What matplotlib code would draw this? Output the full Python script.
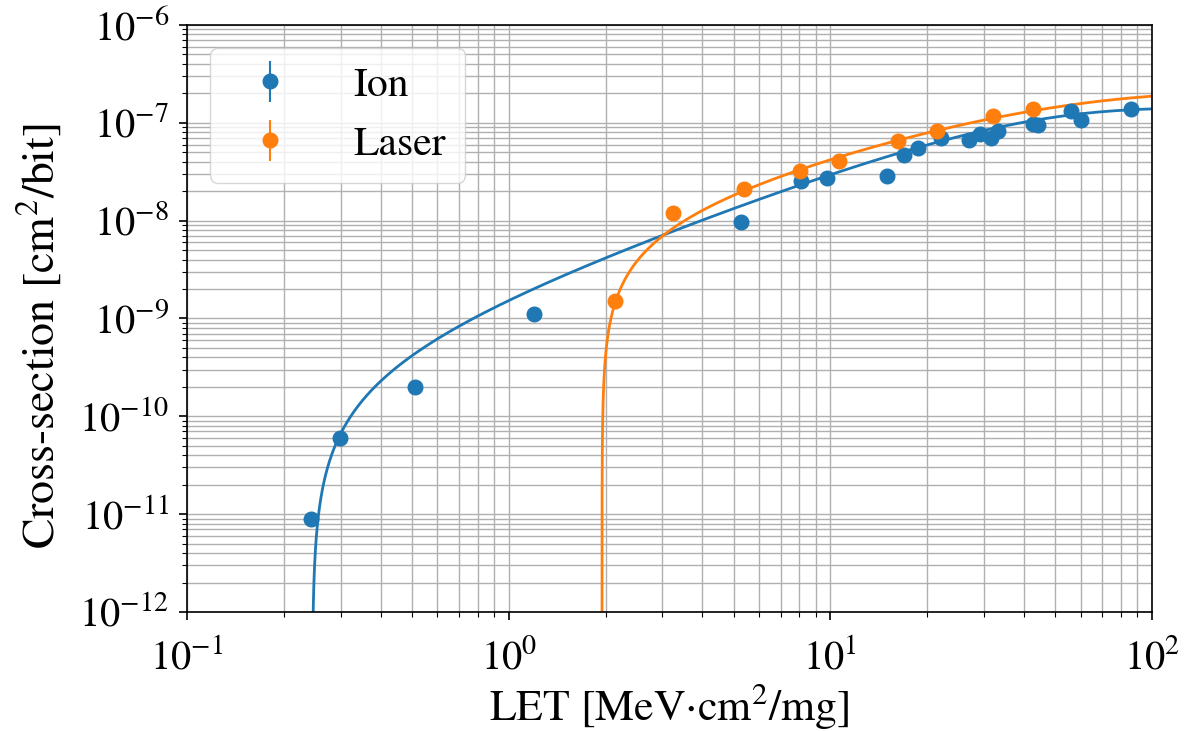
import numpy as np
import matplotlib
matplotlib.use("Agg")
import matplotlib.pyplot as plt

plt.rcParams['font.family'] = ['STIXGeneral', 'DejaVu Serif']
plt.rcParams['mathtext.fontset'] = 'stix'

# Ion data
ion_let = [0.243, 0.299, 0.511, 1.198, 5.26, 8.09, 9.74, 14.96, 16.98, 18.68, 22.07,
           26.97, 29.2, 31.6, 33.1, 42.7, 44.3, 56.2, 60.0, 85.8]
ion_xs = [8.9e-12, 5.98e-11, 1.99e-10, 1.11e-9, 9.76e-9, 2.56e-8, 2.71e-8, 2.86e-8, 4.69e-8,
          5.57e-8, 7.05e-8, 6.68e-8, 7.63e-8, 6.94e-8, 8.25e-8, 9.65e-8, 9.6e-8, 1.32e-7,
          1.07e-7, 1.38e-7]
ion_err = [0.0] * len(ion_let)

# Laser data
laser_let = [2.14, 3.25, 5.40, 8.06, 10.66, 16.19, 21.49, 31.96, 42.7]
laser_xs = [1.52e-9, 1.206e-8, 2.107e-8, 3.22e-8, 4.10e-8, 6.52e-8, 8.31e-8, 1.18e-7, 1.38e-7]
laser_err = [0.0] * len(laser_let)

# Weibull fit parameters: (sigma_sat, L0, W, s)
ion_fit = (1.42e-7, 0.245, 32.9, 1.20)
laser_fit = (2.08e-7, 1.95, 40.0, 0.93)


def weibull(L, p):
    sat, L0, W, s = p
    out = np.full_like(L, np.nan)
    m = L > L0
    out[m] = sat * (1 - np.exp(-(((L[m] - L0) / W) ** s)))
    return out


fig = plt.figure(figsize=(11.96, 7.31), dpi=100)
ax = fig.add_axes([0.1564, 0.1628, 0.8068, 0.803])

c_ion = '#1f77b4'
c_las = '#ff7f0e'

ax.errorbar(ion_let, ion_xs, yerr=ion_err, fmt='o', color=c_ion, ms=10.5, label='Ion')
ax.errorbar(laser_let, laser_xs, yerr=laser_err, fmt='o', color=c_las, ms=10.5, label='Laser')

Lgrid_i = np.concatenate([ion_fit[1] + np.logspace(-9, 0, 600), np.logspace(np.log10(ion_fit[1] + 1.01), 2, 400)])
Lgrid_l = np.concatenate([laser_fit[1] + np.logspace(-9, 0, 600), np.logspace(np.log10(laser_fit[1] + 1.01), 2, 400)])
ax.plot(Lgrid_i, weibull(Lgrid_i, ion_fit), color=c_ion, lw=2)
ax.plot(Lgrid_l, weibull(Lgrid_l, laser_fit), color=c_las, lw=2)

ax.set_xscale('log')
ax.set_yscale('log')
ax.set_xlim(0.1, 100)
ax.set_ylim(1e-12, 1e-6)
ax.grid(True, which='both', color='#b0b0b0', lw=1)
ax.set_axisbelow(True)

ax.set_xlabel(r'LET [MeV$\cdot$cm$^2$/mg]', fontsize=31.5, labelpad=2)
ax.set_ylabel(r'Cross-section [cm$^2$/bit]', fontsize=33)
ax.yaxis.set_label_coords(-0.128, 0.47)
ax.tick_params(axis='both', which='major', labelsize=29, length=6, width=1.2)
ax.tick_params(axis='x', which='major', pad=14)
ax.tick_params(axis='y', which='major', pad=7)
ax.tick_params(axis='both', which='minor', length=3.5, width=0.8)
for sp in ax.spines.values():
    sp.set_linewidth(1.2)

ax.legend(loc='upper left', fontsize=30, borderpad=0.45, labelspacing=0.5,
          handlelength=2.0, handletextpad=1.0, borderaxespad=0,
          bbox_to_anchor=(0.0238, 0.9608))

fig.savefig('out.png', dpi=100)
